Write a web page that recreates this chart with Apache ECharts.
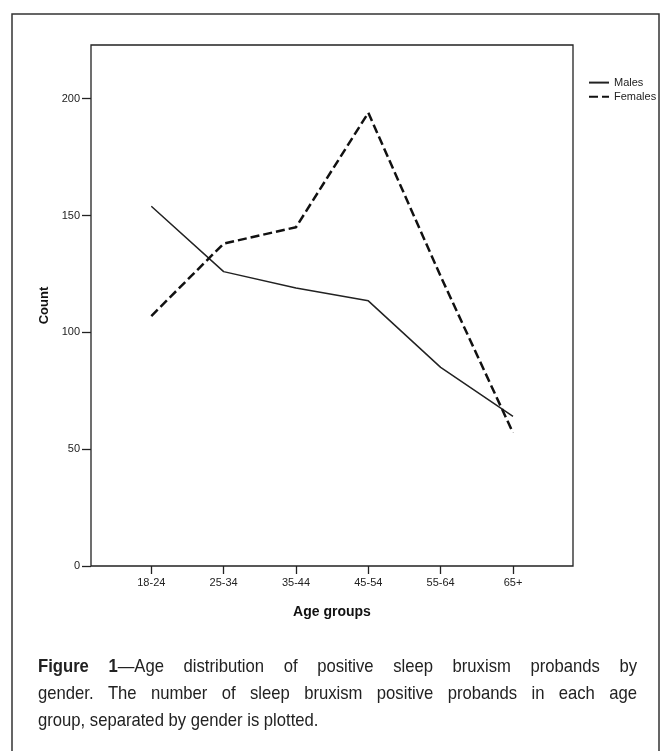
<!DOCTYPE html>
<html>
<head>
<meta charset="utf-8">
<script src="https://cdn.jsdelivr.net/npm/echarts@6/dist/echarts.min.js"></script>
<style>
html,body{margin:0;padding:0;background:#fff;}
#chart{width:671px;height:751px;}
</style>
</head>
<body>
<div id="chart"></div>
<script>
const categories = ['18-24', '25-34', '35-44', '45-54', '55-64', '65+'];
const males = [154, 126, 119, 113.5, 85, 64];
const females = [107, 138, 145, 194, 124, 57];
const yTicks = [0, 50, 100, 150, 200];
const yMax = 223;
const captionLines = [
  'Figure 1\u2014Age distribution of positive sleep bruxism probands by',
  'gender. The number of sleep bruxism positive probands in each age',
  'group, separated by gender is plotted.'
];

const chart = echarts.init(document.getElementById('chart'), null, {renderer: 'canvas'});

// caption layout (justified, condensed)
const capFamily = '"Liberation Sans", Arial, sans-serif';
const capSize = 18.5;
const capScale = 0.9;
const capLeft = 38, capRight = 637, capTop0 = 667, capLH = 27;
const cv = document.createElement('canvas').getContext('2d');
function measure(t, bold) {
  cv.font = (bold ? 'bold ' : '') + capSize + 'px ' + capFamily;
  return cv.measureText(t).width * capScale;
}
const graphics = [];
captionLines.forEach((line, li) => {
  const words = line.split(' ');
  const tokens = words.map(w => {
    if (li === 0 && w === 'Figure') return [[w, true]];
    if (li === 0 && w.startsWith('1\u2014')) return [['1', true], [w.slice(1), false]];
    return [[w, false]];
  });
  const widths = tokens.map(t => t.reduce((s, seg) => s + measure(seg[0], seg[1]), 0));
  const total = widths.reduce((a, b) => a + b, 0);
  const last = li === captionLines.length - 1;
  const gap = last ? measure(' ', false) : (capRight - capLeft - total) / (tokens.length - 1);
  let x = capLeft;
  const y = capTop0 + li * capLH;
  tokens.forEach((t, i) => {
    let sx = x;
    t.forEach(seg => {
      graphics.push({
        type: 'text', x: sx, y: y, scaleX: capScale, silent: true,
        style: {
          text: seg[0], fill: '#222',
          font: (seg[1] ? 'bold ' : '') + capSize + 'px ' + capFamily,
          textAlign: 'left', textVerticalAlign: 'middle'
        }
      });
      sx += measure(seg[0], seg[1]);
    });
    x += widths[i] + gap;
  });
});
// outer frame
graphics.push({
  type: 'rect', silent: true, z: -1,
  shape: {x: 12, y: 14, width: 647, height: 760},
  style: {fill: 'none', stroke: '#333', lineWidth: 1.5}
});

const axisFont = {fontFamily: '"Liberation Sans", Arial, sans-serif', fontSize: 11, color: '#222'};

const option = {
  backgroundColor: '#fff',
  animation: false,
  graphic: graphics,
  legend: {
    orient: 'vertical',
    left: 588, top: 77, padding: 0,
    itemWidth: 20, itemHeight: 14, itemGap: 3,
    itemStyle: {opacity: 0},
    textStyle: axisFont,
    data: ['Males', 'Females']
  },
  grid: [
    {left: 91, top: 45, right: 98, bottom: 185, show: true, borderColor: '#222', borderWidth: 1.3, backgroundColor: 'transparent'},
    {left: 151.3, top: 45, right: 158, bottom: 185}
  ],
  xAxis: [
    {
      gridIndex: 0, type: 'value', min: 0, max: 1,
      axisLine: {show: false}, axisTick: {show: false}, axisLabel: {show: false}, splitLine: {show: false},
      name: 'Age groups', nameLocation: 'middle', nameGap: 39,
      nameTextStyle: {fontFamily: '"Liberation Sans", Arial, sans-serif', fontSize: 14, fontWeight: 'bold', color: '#111'}
    },
    {
      gridIndex: 1, type: 'category', data: categories, boundaryGap: false,
      axisLine: {show: false},
      axisTick: {show: true, length: 8, lineStyle: {color: '#222', width: 1.3}, alignWithLabel: true},
      axisLabel: Object.assign({margin: 11}, axisFont),
      splitLine: {show: false}
    }
  ],
  yAxis: [
    {
      gridIndex: 0, type: 'value', min: 0, max: yMax,
      axisLine: {show: false},
      axisTick: {show: true, length: 9, customValues: yTicks, lineStyle: {color: '#222', width: 1.3}},
      axisLabel: Object.assign({margin: 11, customValues: yTicks}, axisFont),
      splitLine: {show: false},
      name: 'Count', nameLocation: 'middle', nameGap: 35,
      nameTextStyle: {fontFamily: '"Liberation Sans", Arial, sans-serif', fontSize: 13, fontWeight: 'bold', color: '#111'}
    },
    {
      gridIndex: 1, type: 'value', min: 0, max: yMax, show: false
    }
  ],
  series: [
    {
      name: 'Males', type: 'line', xAxisIndex: 1, yAxisIndex: 1,
      data: males, symbol: 'none',
      lineStyle: {color: '#222', width: 1.5, type: 'solid'},
      itemStyle: {color: '#222'}
    },
    {
      name: 'Females', type: 'line', xAxisIndex: 1, yAxisIndex: 1,
      data: females, symbol: 'none',
      lineStyle: {color: '#111', width: 2.5, type: [9, 4]},
      itemStyle: {color: '#111'}
    }
  ]
};
chart.setOption(option);
</script>
</body>
</html>
